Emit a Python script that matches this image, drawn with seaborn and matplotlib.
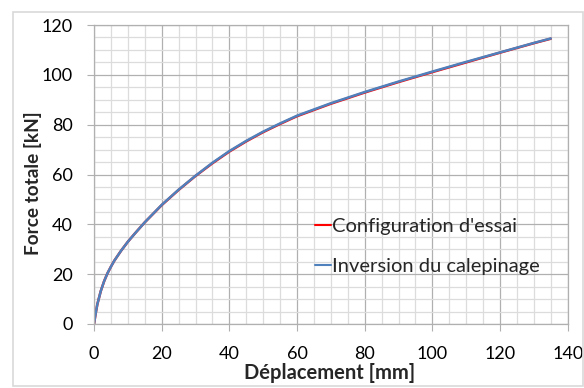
import matplotlib
matplotlib.use("Agg")
import matplotlib.pyplot as plt
from matplotlib.patches import Rectangle
from matplotlib.ticker import MultipleLocator
import pandas as pd
import seaborn as sns

# Load-displacement curves (displacement in mm, total force in kN)
deplacement = [0, 0.5, 1, 2, 3, 4, 5, 6, 8, 10, 12, 15, 20, 25, 30, 35,
               40, 45, 50, 55, 60, 70, 80, 90, 100, 110, 120, 130, 135]
force_essai = [0, 4.3, 8.0, 13.2, 17.2, 20.4, 23.0, 25.4, 29.4, 33.0, 36.2, 40.8,
               47.7, 53.8, 59.4, 64.5, 69.2, 73.3, 77.0, 80.3, 83.4, 88.4, 92.9,
               97.1, 101.1, 105.0, 108.9, 112.7, 114.5]
force_inversion = [0, 4.3, 8.0, 13.2, 17.2, 20.4, 23.0, 25.4, 29.4, 33.0, 36.2, 40.8,
                   47.8, 53.9, 59.5, 64.7, 69.4, 73.5, 77.2, 80.5, 83.6, 88.6, 93.1,
                   97.3, 101.3, 105.2, 109.0, 112.8, 114.6]
series_names = ["Configuration d'essai", "Inversion du calepinage"]
series_colors = ["#ff0000", "#4f81bd"]

df = pd.concat([
    pd.DataFrame({"x": deplacement, "y": force_essai, "serie": series_names[0]}),
    pd.DataFrame({"x": deplacement, "y": force_inversion, "serie": series_names[1]}),
], ignore_index=True)

sns.set_theme(style="white")
plt.rcParams["font.family"] = ["Lato", "DejaVu Sans"]

fig = plt.figure(figsize=(5.84, 3.88), dpi=100)
ax = fig.add_axes([94 / 584, 1 - 324 / 388, (567.7 - 94) / 584, (324 - 25) / 388])

sns.lineplot(data=df, x="x", y="y", hue="serie", palette=series_colors,
             estimator=None, sort=False, linewidth=1.8, ax=ax, legend=False)

ax.set_xlim(0, 140)
ax.set_ylim(0, 120)
ax.xaxis.set_major_locator(MultipleLocator(20))
ax.xaxis.set_minor_locator(MultipleLocator(5))
ax.yaxis.set_major_locator(MultipleLocator(20))
ax.yaxis.set_minor_locator(MultipleLocator(5))
ax.grid(which="major", color="#b0b0b0", linewidth=0.9)
ax.grid(which="minor", color="#dcdcdc", linewidth=0.9)
ax.set_axisbelow(True)
ax.tick_params(which="major", direction="out", length=5, width=0.8,
               color="#b0b0b0", labelsize=13, pad=10.5, labelcolor="black",
               bottom=True, left=True)
ax.tick_params(which="minor", length=0)
for s in ax.spines.values():
    s.set_color("#b0b0b0")
    s.set_linewidth(0.9)

ax.set_xlabel("Déplacement [mm]", fontsize=14.5, fontweight="bold")
ax.set_ylabel("Force totale [kN]", fontsize=13.7, fontweight="bold")
ax.xaxis.set_label_coords(0.498, -0.13)
ax.yaxis.set_label_coords(-0.11, 0.472)

handles = [plt.Line2D([], [], color=c, linewidth=1.5) for c in series_colors]
ax.legend(handles, series_names, loc="upper left", bbox_to_anchor=(0.4665, 0.355),
          frameon=False, fontsize=14.5, handlelength=0.8, handletextpad=0.05,
          labelspacing=1.16, borderpad=0, borderaxespad=0)

fig.patches.append(Rectangle((13 / 584, 2 / 388), (583 - 13) / 584, (386 - 12) / 388,
                             transform=fig.transFigure, fill=False,
                             edgecolor="#d9d9d9", linewidth=1.2))

fig.savefig("out.png", dpi=100)
